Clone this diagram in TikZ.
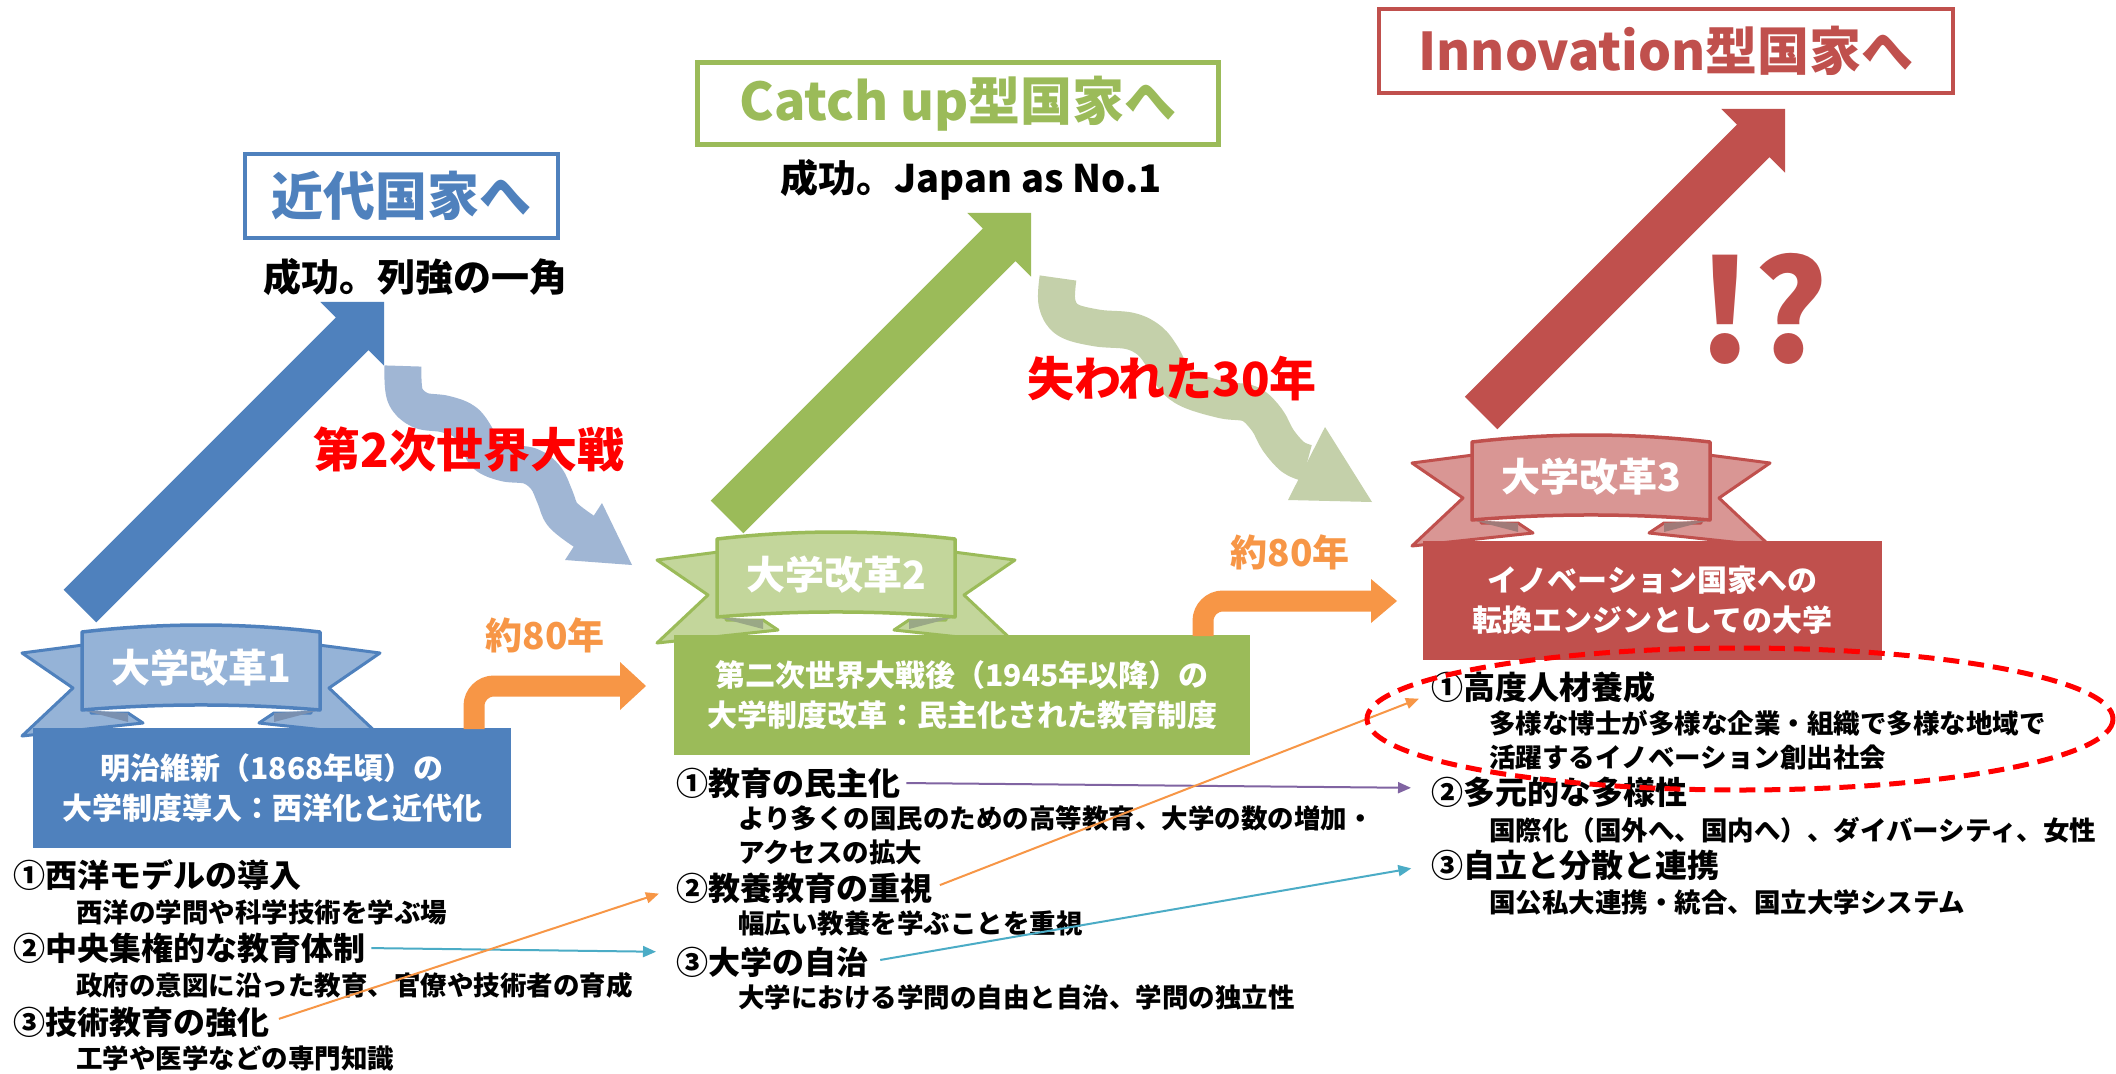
\documentclass[tikz,border=0pt]{standalone}
\usepackage{fontspec}
\setmainfont{Noto Sans CJK JP}
\usetikzlibrary{arrows.meta,calc}
\definecolor{cblue}{HTML}{4F81BD}
\definecolor{cbluel}{HTML}{95B3D7}
\definecolor{cbluef}{HTML}{7A90B0}
\definecolor{cgreen}{HTML}{9BBB59}
\definecolor{cgreenl}{HTML}{C3D69B}
\definecolor{cgreenf}{HTML}{9AA886}
\definecolor{cred}{HTML}{C0504D}
\definecolor{credl}{HTML}{D99694}
\definecolor{credf}{HTML}{A07A78}
\definecolor{corange}{HTML}{F79646}
\definecolor{ccyan}{HTML}{4BACC6}
\definecolor{cpurple}{HTML}{8064A2}
\definecolor{wblue}{HTML}{A0B6D4}
\definecolor{wgreen}{HTML}{C4D0AA}
\definecolor{bright}{HTML}{FF0000}
\tikzset{
  titlebox/.style={line width=4pt, inner sep=0pt, font=\fontsize{52pt}{60pt}\selectfont\bfseries},
  hdr/.style={inner sep=0pt, font=\fontsize{38pt}{44pt}\selectfont\bfseries},
  warlabel/.style={inner sep=0pt, text=bright, font=\fontsize{47pt}{52pt}\selectfont\bfseries},
  yrs/.style={inner sep=0pt, text=corange, font=\fontsize{37pt}{42pt}\selectfont\bfseries},
  ribtxt/.style={inner sep=0pt, text=white, font=\fontsize{39pt}{44pt}\selectfont\bfseries},
  boxtxt/.style={inner sep=0pt, text=white, align=center, font=\fontsize{30pt}{40pt}\selectfont\bfseries},
  itemm/.style={anchor=west, inner sep=0pt, font=\fontsize{32pt}{36pt}\selectfont\bfseries},
  items/.style={anchor=west, inner sep=0pt, font=\fontsize{26.5pt}{30pt}\selectfont\bfseries},
  link/.style={line width=2pt, -{Triangle[length=13pt,width=11pt]}},
  bent/.style={line width=21pt, rounded corners=20pt},
}
\newcommand{\ribbonshape}[5]{%
  \begin{scope}[shift={(#1,#2)}]
    \foreach \s in {1,-1} {
      \filldraw[fill=#3, draw=#4, line width=3pt, line join=round]
        (\s*-110,-24) -- (\s*-179,-15) -- (\s*-128,20) -- (\s*-179,68) -- (\s*-58,55) -- (\s*-73,45) -- (\s*-110,45) -- cycle;
      \fill[#5] (\s*-119,42) -- (\s*-73,45) -- (\s*-73,54) -- cycle;
    }
    \filldraw[fill=#3, draw=#4, line width=3.5pt, line join=round]
      (-119,-36) .. controls (-40,-45.3) and (40,-45.3) .. (119,-36) -- (119,42)
      .. controls (40,35.3) and (-40,35.3) .. (-119,42) -- cycle;
  \end{scope}}
\newcommand{\bigarrow}[3]{%
  \fill[#3, shift={(#1,#2)}, rotate=45]
    (0,-23) -- (385,-23) -- (385,-45) -- (430,0) -- (385,45) -- (385,23) -- (0,23) -- cycle;}
\begin{document}
\begin{tikzpicture}[x=1pt,y=-1pt]
\useasboundingbox (0,0) rectangle (2116,1073);
\fill[white] (0,0) rectangle (2116,1073);

% title boxes
\node[titlebox, draw=cblue, text=cblue, minimum width=313pt, minimum height=84pt] (t1) at (401.5,196) {近代国家へ};
\node[titlebox, draw=cgreen, text=cgreen, line width=5pt, minimum width=521pt, minimum height=82pt] (t2) at (958,103.5) {Catch up型国家へ};
\node[titlebox, draw=cred, text=cred, minimum width=574pt, minimum height=84pt] (t3) at (1666,51) {Innovation型国家へ};

\node[hdr] (h1) at (415,277) {成功。列強の一角};
\node[hdr] (h2) at (971,180) {成功。Japan as No.1};

% big arrows
\bigarrow{80}{606}{cblue}
\bigarrow{727}{517}{cgreen}
\bigarrow{1481}{413}{cred}

% wavy arrows
\draw[wblue, line width=37pt, line cap=butt, line join=round]
  plot[smooth, tension=0.6] coordinates {(403,366) (405,395) (420,410) (445,414) (465,422) (478,440) (486,455) (505,463) (530,466) (546,478) (555,497) (563,515) (585,532)};
\fill[wblue] (602,503) -- (632,565) -- (565,560) -- cycle;
\draw[wgreen, line width=37pt, line cap=butt, line join=round]
  plot[smooth, tension=0.6] coordinates {(1058,278) (1057,303) (1068,320) (1097,328) (1130,331) (1150,341) (1163,358) (1173,377) (1190,390) (1223,400) (1250,404) (1267,420) (1278,440) (1293,457) (1307,463)};
\fill[wgreen] (1325,427) -- (1372,502) -- (1288,500) -- cycle;

\node[warlabel] (w1) at (469,450) {第2次世界大戦};
\node[warlabel] (w2) at (1172,379) {失われた30年};

\node[inner sep=0pt, text=cred, font=\fontsize{140pt}{140pt}\selectfont\bfseries] (q) at (1763,309) {!?};

% ribbons
\ribbonshape{201}{668}{cbluel}{cblue}{cbluef}
\ribbonshape{836}{575}{cgreenl}{cgreen}{cgreenf}
\ribbonshape{1591}{478}{credl}{cred}{credf}

% boxes
\node[fill=cblue, minimum width=478pt, minimum height=120pt, boxtxt] (bbox) at (272,788) {明治維新（1868年頃）の\\大学制度導入：西洋化と近代化};
\node[fill=cgreen, minimum width=576pt, minimum height=120pt, boxtxt] (gbox) at (962,695) {第二次世界大戦後（1945年以降）の\\大学制度改革：民主化された教育制度};
\node[fill=cred, minimum width=459pt, minimum height=119pt, boxtxt] (rbox) at (1652.5,600.5) {イノベーション国家への\\転換エンジンとしての大学};

\node[ribtxt] (rib1) at (201,668) {大学改革1};
\node[ribtxt] (rib2) at (836,575) {大学改革2};
\node[ribtxt] (rib3) at (1591,477) {大学改革3};

% orange bent arrows
\coordinate (o1s) at (474,729);
\coordinate (o1e) at (622,686);
\coordinate (o2s) at (1203,636);
\coordinate (o2e) at (1373,601);
\draw[corange, bent] (o1s) |- (o1e);
\fill[corange] (620,662) -- (646,686) -- (620,710) -- cycle;
\draw[corange, bent] (o2s) |- (o2e);
\fill[corange] (1371,579) -- (1397,601) -- (1371,623) -- cycle;
\node[yrs] (y1) at (545,635) {約80年};
\node[yrs] (y2) at (1290,552) {約80年};

% blue items
\node[itemm] (b1) at (13,875) {①西洋モデルの導入};
\node[items] (b1s) at (76,912) {西洋の学問や科学技術を学ぶ場};
\node[itemm] (b2) at (13,948) {②中央集権的な教育体制};
\node[items] (b2s) at (76,985) {政府の意図に沿った教育、官僚や技術者の育成};
\node[itemm] (b3) at (13,1022) {③技術教育の強化};
\node[items] (b3s) at (76,1058) {工学や医学などの専門知識};

% green items
\node[itemm] (g1) at (676,783) {①教育の民主化};
\node[items] (g1s) at (738,818) {より多くの国民のための高等教育、大学の数の増加・};
\node[items] (g1t) at (738,852) {アクセスの拡大};
\node[itemm] (g2) at (676,888) {②教養教育の重視};
\node[items] (g2s) at (738,923) {幅広い教養を学ぶことを重視};
\node[itemm] (g3) at (676,962) {③大学の自治};
\node[items] (g3s) at (738,997) {大学における学問の自由と自治、学問の独立性};

% red items
\node[itemm] (r1) at (1431,687) {①高度人材養成};
\node[items] (r1s) at (1489,723) {多様な博士が多様な企業・組織で多様な地域で};
\node[items] (r1t) at (1489,757) {活躍するイノベーション創出社会};
\node[itemm] (r2) at (1431,792) {②多元的な多様性};
\node[items] (r2s) at (1489,830) {国際化（国外へ、国内へ）、ダイバーシティ、女性};
\node[itemm] (r3) at (1431,865) {③自立と分散と連携};
\node[items] (r3s) at (1489,902) {国公私大連携・統合、国立大学システム};

% links
\draw[link, ccyan, shorten <=6pt, shorten >=20pt] (b2.east) -- ([yshift=10pt]g3.west);
\draw[link, corange, shorten <=10pt, shorten >=18pt] (b3.east) -- (g2.west);
\draw[link, cpurple, shorten <=6pt, shorten >=20pt] (g1.east) -- ([yshift=4pt]r2.west);
\draw[link, ccyan, shorten <=12pt, shorten >=20pt] (g3.east) -- (r3.west);
\draw[link, corange, shorten <=8pt, shorten >=13pt] (g2.east) -- ([yshift=-7pt]r1.west);

% dashed ellipse
\draw[bright, line width=5pt, dash pattern=on 16pt off 9pt] (1740,719) ellipse [x radius=373, y radius=71];
\end{tikzpicture}
\end{document}
